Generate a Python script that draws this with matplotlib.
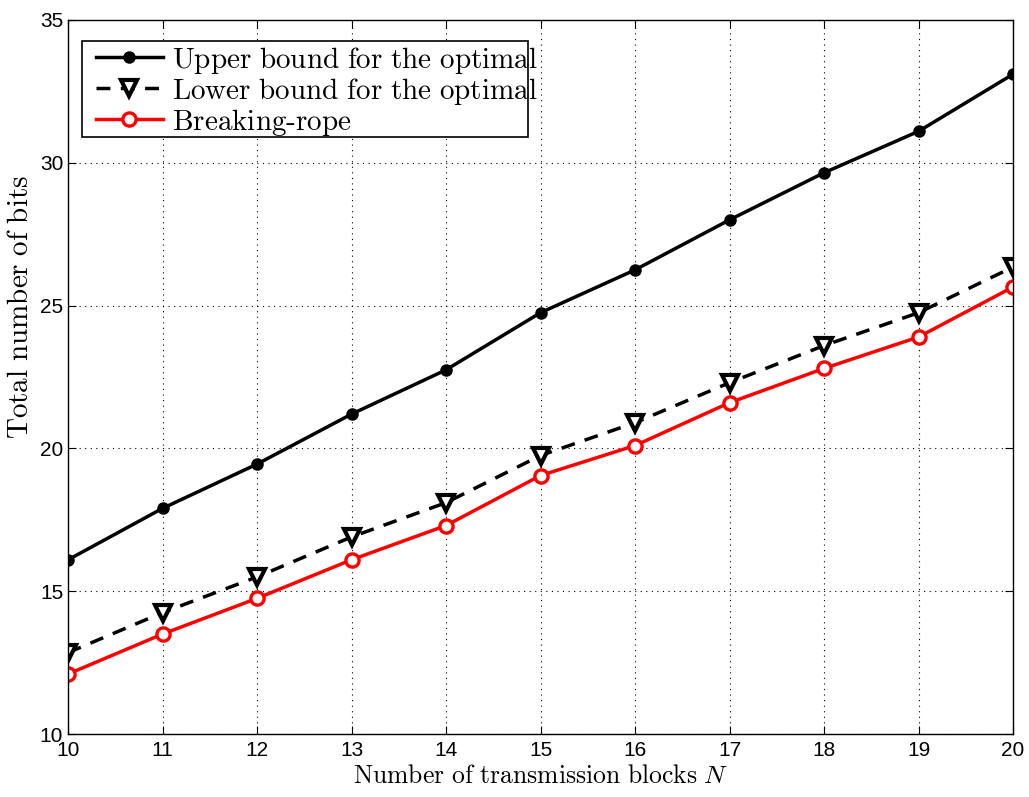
import numpy as np
import matplotlib.pyplot as plt
from matplotlib import patches

# data
N = [10, 11, 12, 13, 14, 15, 16, 17, 18, 19, 20]
upper = [16.1, 17.9, 19.45, 21.2, 22.75, 24.75, 26.25, 28.0, 29.65, 31.1, 33.1]
lower = [12.85, 14.25, 15.5, 16.9, 18.1, 19.75, 20.9, 22.3, 23.6, 24.75, 26.35]
rope = [12.1, 13.5, 14.75, 16.1, 17.3, 19.05, 20.1, 21.6, 22.8, 23.9, 25.65]

labels = [r'$\mathrm{Upper\ bound\ for\ the\ optimal}$',
          r'$\mathrm{Lower\ bound\ for\ the\ optimal}$',
          r'$\mathrm{Breaking\text{-}rope}$']

plt.rcParams['mathtext.fontset'] = 'cm'
plt.rcParams['font.family'] = ['Liberation Sans', 'DejaVu Sans']

fig = plt.figure(figsize=(10.29, 7.97), dpi=100)
ax = fig.add_axes([0.0661, 0.079, 0.9184, 0.896])

ax.plot(N, upper, '-', color='black', lw=2.5, marker='o', ms=8,
        mfc='black', mec='black', label=labels[0])
ax.plot(N, lower, '--', color='black', lw=2.5, dashes=(4, 3), marker='v', ms=11,
        mfc='white', mec='black', mew=3, label=labels[1])
ax.plot(N, rope, '-', color='red', lw=2.5, marker='o', ms=9.5,
        mfc='white', mec='red', mew=2.4, label=labels[2])

ax.set_xlim(10, 20)
ax.set_ylim(10, 35)
ax.set_xticks(np.arange(10, 21, 1))
ax.set_yticks(np.arange(10, 36, 5))
ax.tick_params(direction='in', top=True, right=True, labelsize=15, length=6)
ax.tick_params(axis='x', pad=5)
ax.grid(True, linestyle=(0, (1, 4)), color='black', lw=0.8)
for s in ax.spines.values():
    s.set_linewidth(1.0)

ax.set_xlabel(r'$\mathrm{Number\ of\ transmission\ blocks}\ N$', fontsize=18.5, labelpad=3)
ax.set_ylabel(r'$\mathrm{Total\ number\ of\ bits}$', fontsize=21)
ax.yaxis.set_label_coords(-0.036, 0.598)

leg = ax.legend(loc='upper left', bbox_to_anchor=(0.011, 0.99), fontsize=21,
                frameon=False, handlelength=2.3, handletextpad=0.3,
                labelspacing=0.0, borderaxespad=0.2)

# MATLAB-style legend box (text spills over the right edge)
box = patches.Rectangle((0.0148, 0.836), 0.472, 0.134, transform=ax.transAxes,
                        fill=True, facecolor='white', edgecolor='black', lw=1.2,
                        zorder=4)
ax.add_patch(box)
leg.set_zorder(5)

fig.savefig('out.png', dpi=100)
